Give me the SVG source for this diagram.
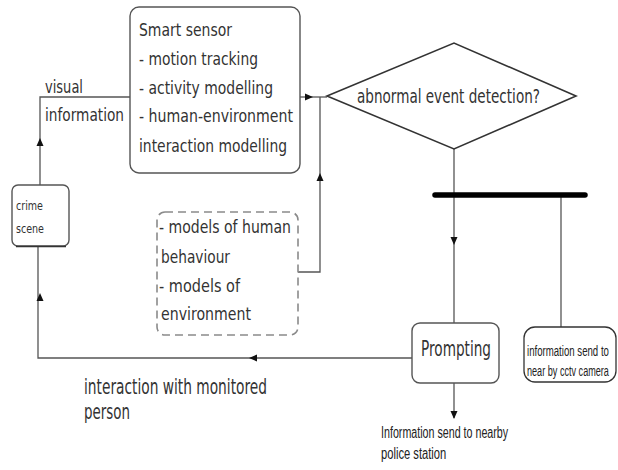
<svg xmlns="http://www.w3.org/2000/svg" width="618" height="470" viewBox="0 0 618 470">
  <style>
    .box { fill: #ffffff; stroke: #555555; stroke-width: 1.4; }
    .dash { fill: #ffffff; stroke: #8a8a8a; stroke-width: 1.6; stroke-dasharray: 8 5; }
    .wire { fill: none; stroke: #555555; stroke-width: 1.3; }
    .t { font-family: "DejaVu Sans", "Liberation Sans", sans-serif; fill: #333333; }
    .big { font-size: 18px; }
    .sm { font-size: 12.5px; }
    .nar { font-family: "Liberation Sans", "DejaVu Sans", sans-serif; fill: #222222; }
  </style>
  <defs>
    <path id="ah" d="M0,0 L-8,-3.5 L-8,3.5 Z" fill="#111111"/>
  </defs>
  <rect width="618" height="470" fill="#ffffff"/>

  <!-- connectors -->
  <g id="connectors">
    <path class="wire" d="M40,185 V97 H130"/>
    <path class="wire" d="M300,97 H327"/>
    <path class="wire" d="M298,272 H320 V97"/>
    <path class="wire" d="M454,149 V323"/>
    <path class="wire" d="M561,195 V328"/>
    <path class="wire" d="M412,358 H38 V246"/>
    <path class="wire" d="M454,383 V418"/>
    <line x1="435" y1="195" x2="585" y2="195" stroke="#000000" stroke-width="5.5" stroke-linecap="round"/>
    <use href="#ah" transform="translate(40,138) rotate(-90)"/>
    <use href="#ah" transform="translate(40,293) rotate(-90)"/>
    <use href="#ah" transform="translate(313,97)"/>
    <use href="#ah" transform="translate(320,173) rotate(-90)"/>
    <use href="#ah" transform="translate(454,245) rotate(90)"/>
    <use href="#ah" transform="translate(249,358) rotate(180)"/>
    <use href="#ah" transform="translate(454,419) rotate(90)"/>
  </g>

  <!-- smart sensor -->
  <g id="smart-sensor">
    <rect class="box" x="130" y="7" width="170" height="166" rx="9"/>
    <text class="t big" x="139" y="36" textLength="93" lengthAdjust="spacingAndGlyphs">Smart sensor</text>
    <text class="t big" x="139" y="65" textLength="119" lengthAdjust="spacingAndGlyphs">- motion tracking</text>
    <text class="t big" x="139" y="94" textLength="134" lengthAdjust="spacingAndGlyphs">- activity modelling</text>
    <text class="t big" x="139" y="122" textLength="154" lengthAdjust="spacingAndGlyphs">- human-environment</text>
    <text class="t big" x="139" y="152" textLength="148" lengthAdjust="spacingAndGlyphs">interaction modelling</text>
  </g>

  <!-- visual information label -->
  <g id="visual-information">
    <text class="t big" x="45" y="93" textLength="38" lengthAdjust="spacingAndGlyphs">visual</text>
    <text class="t big" x="45" y="121" textLength="79" lengthAdjust="spacingAndGlyphs">information</text>
  </g>

  <!-- crime scene -->
  <g id="crime-scene">
    <rect class="box" x="12" y="185" width="57" height="61" rx="6"/>
    <line x1="16" y1="246.5" x2="66" y2="246.5" stroke="#333333" stroke-width="1.5"/>
    <text class="t sm" x="16" y="210" textLength="27" lengthAdjust="spacingAndGlyphs">crime</text>
    <text class="t sm" x="16" y="233" textLength="28" lengthAdjust="spacingAndGlyphs">scene</text>
  </g>

  <!-- abnormal event detection -->
  <g id="detection">
    <polygon points="327,96 454,43 576,96 454,149" fill="#ffffff" stroke="#333333" stroke-width="1.6"/>
    <text class="t" x="357" y="103" font-size="19" textLength="183" lengthAdjust="spacingAndGlyphs">abnormal event detection?</text>
  </g>

  <!-- models -->
  <g id="models">
    <rect class="dash" x="157" y="212" width="141" height="123" rx="8"/>
    <text class="t" x="159" y="233" font-size="17" textLength="132" lengthAdjust="spacingAndGlyphs">- models of human</text>
    <text class="t" x="161" y="263" font-size="17" textLength="69" lengthAdjust="spacingAndGlyphs">behaviour</text>
    <text class="t" x="159" y="292" font-size="17" textLength="81" lengthAdjust="spacingAndGlyphs">- models of</text>
    <text class="t" x="161" y="320" font-size="17" textLength="90" lengthAdjust="spacingAndGlyphs">environment</text>
  </g>

  <!-- prompting -->
  <g id="prompting">
    <rect class="box" x="412" y="323" width="87" height="60" rx="8"/>
    <text class="t" x="421" y="356" font-size="21" textLength="70" lengthAdjust="spacingAndGlyphs">Prompting</text>
  </g>

  <!-- cctv: narrow lettering drawn by squeezing the text horizontally -->
  <g id="cctv">
    <rect x="524" y="327" width="92" height="55" rx="11" fill="#ffffff" stroke="#333333" stroke-width="1.3"/>
    <text class="nar" font-size="15" transform="translate(527,356) scale(0.64,1)" x="0" y="0" textLength="128" lengthAdjust="spacingAndGlyphs">information send to</text>
    <text class="nar" font-size="15" transform="translate(527,376) scale(0.64,1)" x="0" y="0" textLength="128" lengthAdjust="spacingAndGlyphs">near by cctv camera</text>
  </g>

  <!-- interaction label -->
  <g id="interaction">
    <text class="t" x="84" y="394" font-size="21" textLength="183" lengthAdjust="spacingAndGlyphs">interaction with monitored</text>
    <text class="t" x="84" y="419" font-size="21" textLength="46" lengthAdjust="spacingAndGlyphs">person</text>
  </g>

  <!-- police station -->
  <g id="police">
    <text class="nar" font-size="16" transform="translate(381,438) scale(0.68,1)" x="0" y="0" textLength="187" lengthAdjust="spacingAndGlyphs">Information send to nearby</text>
    <text class="nar" font-size="16" transform="translate(381,459) scale(0.68,1)" x="0" y="0" textLength="96" lengthAdjust="spacingAndGlyphs">police station</text>
  </g>
</svg>
